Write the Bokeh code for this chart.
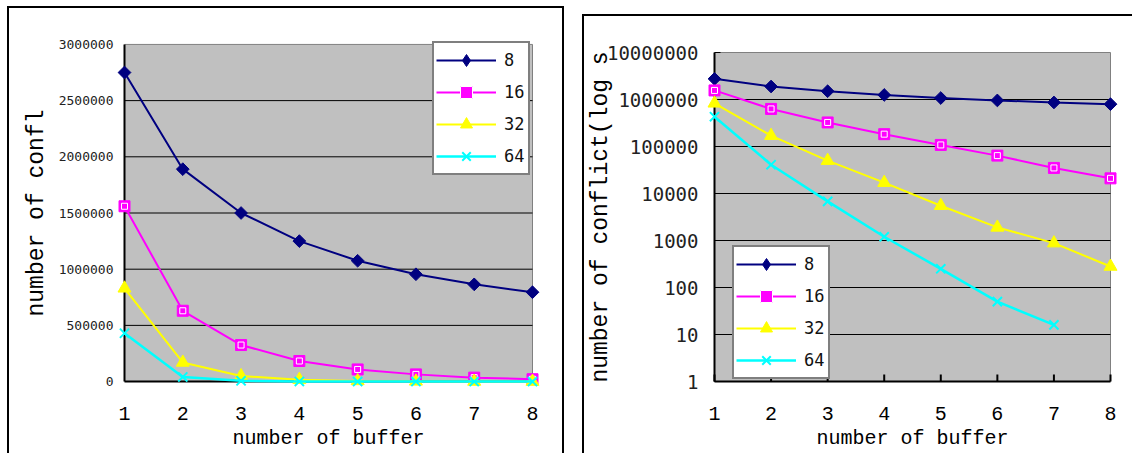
import numpy as np
from bokeh.plotting import figure
from bokeh.layouts import row
from bokeh.models import Range1d, FixedTicker, NumeralTickFormatter, Legend, LegendItem
from bokeh.embed import file_html
from bokeh.resources import INLINE

# ---------------- data ----------------
buffers = [1, 2, 3, 4, 5, 6, 7, 8]
conf_8 = [2750000, 1890000, 1500000, 1250000, 1075000, 955000, 865000, 795000]
conf_16 = [1560000, 630000, 325000, 183000, 108000, 64000, 35000, 21000]
conf_32 = [830000, 170000, 50000, 17000, 5500, 1900, 880, 280]
conf_64 = [430000, 41000, 6800, 1200, 250, 50, 16, 0]
series_names = ["8", "16", "32", "64"]
lin_ticks = [0, 500000, 1000000, 1500000, 2000000, 2500000, 3000000]
log_ticks = [1, 10, 100, 1000, 10000, 100000, 1000000, 10000000]
x_label = "number of buffer"
y_label_lin = "number of confl"
y_label_log = "number of conflict(log s"

# ---------------- styles ----------------
GRAY = "#C0C0C0"
EDGE = "#808080"
LABEL_FONT = "Liberation Mono"
NUM_FONT = "DejaVu Sans Mono"
PAD = 8
LEG_H = 130


def build(log, W, H, bl, br, bt, bb, ticks, ylabel, ytick_size, ystandoff,
          ylabel_standoff, legend_left, legend_top, inner_ticks, margin, page_xy):
    fw = W - bl - br
    fh = H - bt - bb
    x0, x1 = buffers[0], buffers[-1]
    upp = (x1 - x0) / (fw - 2 * PAD)
    xr = Range1d(x0 - PAD * upp, x1 + PAD * upp)
    ymin, ymax = ticks[0], ticks[-1]
    if log:
        dec = np.log10(ymax) - np.log10(ymin)
        dpp = dec / (fh - 2 * PAD)
        yr = Range1d(10 ** (np.log10(ymin) - PAD * dpp), 10 ** (np.log10(ymax) + PAD * dpp))
    else:
        vpp = (ymax - ymin) / (fh - 2 * PAD)
        yr = Range1d(ymin - PAD * vpp, ymax + PAD * vpp)

    p = figure(width=W, height=H, x_range=xr, y_range=yr,
               y_axis_type="log" if log else "linear",
               output_backend="svg", toolbar_location=None,
               min_border_left=bl, min_border_right=br,
               min_border_top=bt, min_border_bottom=bb,
               background_fill_color="white", border_fill_color="white",
               outline_line_color=None)
    p.grid.visible = False

    # plot area
    p.quad(left=[x0], right=[x1], bottom=[ymin], top=[ymax],
           fill_color=GRAY, line_color=None)
    p.segment(x0=[x0, x1], y0=[ymax, ymin], x1=[x1, x1], y1=[ymax, ymax],
              line_color=EDGE, line_width=1)
    inner = ticks[1:-1]
    p.segment(x0=[x0] * len(inner), x1=[x1] * len(inner), y0=inner, y1=inner,
              line_color="black", line_width=1)
    if inner_ticks:
        p.segment(x0=buffers, x1=buffers, y0=[ymin] * len(buffers),
                  y1=[ymin * 10 ** (7 * dpp)] * len(buffers), line_color="black", line_width=2)
        p.segment(x0=[x0] * len(ticks), x1=[x0 + 6 * upp] * len(ticks), y0=ticks, y1=ticks,
                  line_color="black", line_width=1)
    # axes lines
    p.segment(x0=[x0, x0], y0=[ymin, ymin], x1=[x0, x1], y1=[ymax, ymin],
              line_color="black", line_width=2)

    v64 = [np.nan if (log and v <= 0) else v for v in conf_64]

    items = []
    r1 = p.line(buffers, conf_8, line_color="#000080", line_width=2)
    p.scatter(buffers, conf_8, marker="square", angle=np.pi / 4, size=9,
              fill_color="#000080", line_color="#000080")
    m1_leg = p.scatter([np.nan], [np.nan], marker="diamond", size=12,
                       fill_color="#000080", line_color="#000080")
    items.append(LegendItem(label=series_names[0], renderers=[r1, m1_leg]))

    r2 = p.line(buffers, conf_16, line_color="#FF00FF", line_width=2)
    m2 = p.scatter(buffers, conf_16, marker="square", size=11,
                   fill_color="#FF00FF", line_color="#FF00FF")
    m2b = p.scatter(buffers, conf_16, marker="square", size=6,
                    fill_color=None, line_color="white", line_width=1)
    items.append(LegendItem(label=series_names[1], renderers=[r2, m2, m2b]))

    r3 = p.line(buffers, conf_32, line_color="#FFFF00", line_width=2)
    m3 = p.scatter(buffers, conf_32, marker="triangle", size=13,
                   fill_color="#FFFF00", line_color="#FFFF00")
    items.append(LegendItem(label=series_names[2], renderers=[r3, m3]))

    r4 = p.line(buffers, v64, line_color="#00FFFF", line_width=2.5)
    m4 = p.scatter(buffers, v64, marker="x", size=13,
                   line_color="#00FFFF", line_width=2)
    items.append(LegendItem(label=series_names[3], renderers=[r4, m4]))

    frame_left_page = page_xy[0] + bl
    frame_bottom_page = page_xy[1] + H - bb
    leg = Legend(items=items,
                 location=(legend_left - frame_left_page,
                           frame_bottom_page - (legend_top + LEG_H)),
                 border_line_color="black", border_line_width=2,
                 background_fill_color="white", background_fill_alpha=1.0,
                 padding=2, spacing=2, margin=0,
                 glyph_width=60, glyph_height=30, label_height=30,
                 label_width=22, label_standoff=8,
                 label_text_font=NUM_FONT, label_text_font_size="17px",
                 label_text_color="#111111")
    p.add_layout(leg, "center")

    # axes
    xa = p.xaxis[0]
    xa.ticker = FixedTicker(ticks=buffers)
    xa.axis_line_color = None
    xa.major_tick_line_color = None
    xa.minor_tick_line_color = None
    xa.major_tick_in = 0
    xa.major_tick_out = 0
    xa.major_label_standoff = 17
    xa.major_label_text_font = LABEL_FONT
    xa.major_label_text_font_size = "20px"
    xa.major_label_text_color = "black"
    xa.axis_label = x_label
    xa.axis_label_text_font = LABEL_FONT
    xa.axis_label_text_font_size = "20px"
    xa.axis_label_text_font_style = "normal"
    xa.axis_label_text_color = "black"
    xa.axis_label_standoff = 4

    ya = p.yaxis[0]
    ya.ticker = FixedTicker(ticks=ticks)
    ya.formatter = NumeralTickFormatter(format="0")
    ya.axis_line_color = None
    ya.major_tick_line_color = None
    ya.minor_tick_line_color = None
    ya.major_tick_in = 0
    ya.major_tick_out = 0
    ya.major_label_standoff = ystandoff
    ya.major_label_text_font = NUM_FONT
    ya.major_label_text_font_size = ytick_size
    ya.major_label_text_color = "#222222"
    ya.axis_label = ylabel
    ya.axis_label_text_font = LABEL_FONT
    ya.axis_label_text_font_size = "23px"
    ya.axis_label_text_font_style = "normal"
    ya.axis_label_text_color = "black"
    ya.axis_label_standoff = ylabel_standoff

    p.margin = margin
    p.styles = {"box-shadow": "0 0 0 2px black"}
    return p


# left chart: content box x 9..562, y 8..453 ; right chart: x 584..1132, y 16..453
p1 = build(False, 553, 445, 107, 22, 25, 64, lin_ticks, y_label_lin, "13px", 3, 6,
           432, 45, False, (8, 0, 0, 9), (9, 8))
p2 = build(True, 548, 437, 122, 14, 28, 64, log_ticks, y_label_log, "19px", 8, -10,
           732, 249, True, (16, 0, 0, 22), (584, 16))

layout = row(p1, p2, spacing=0)
open("out.html", "w").write(file_html(layout, INLINE))
